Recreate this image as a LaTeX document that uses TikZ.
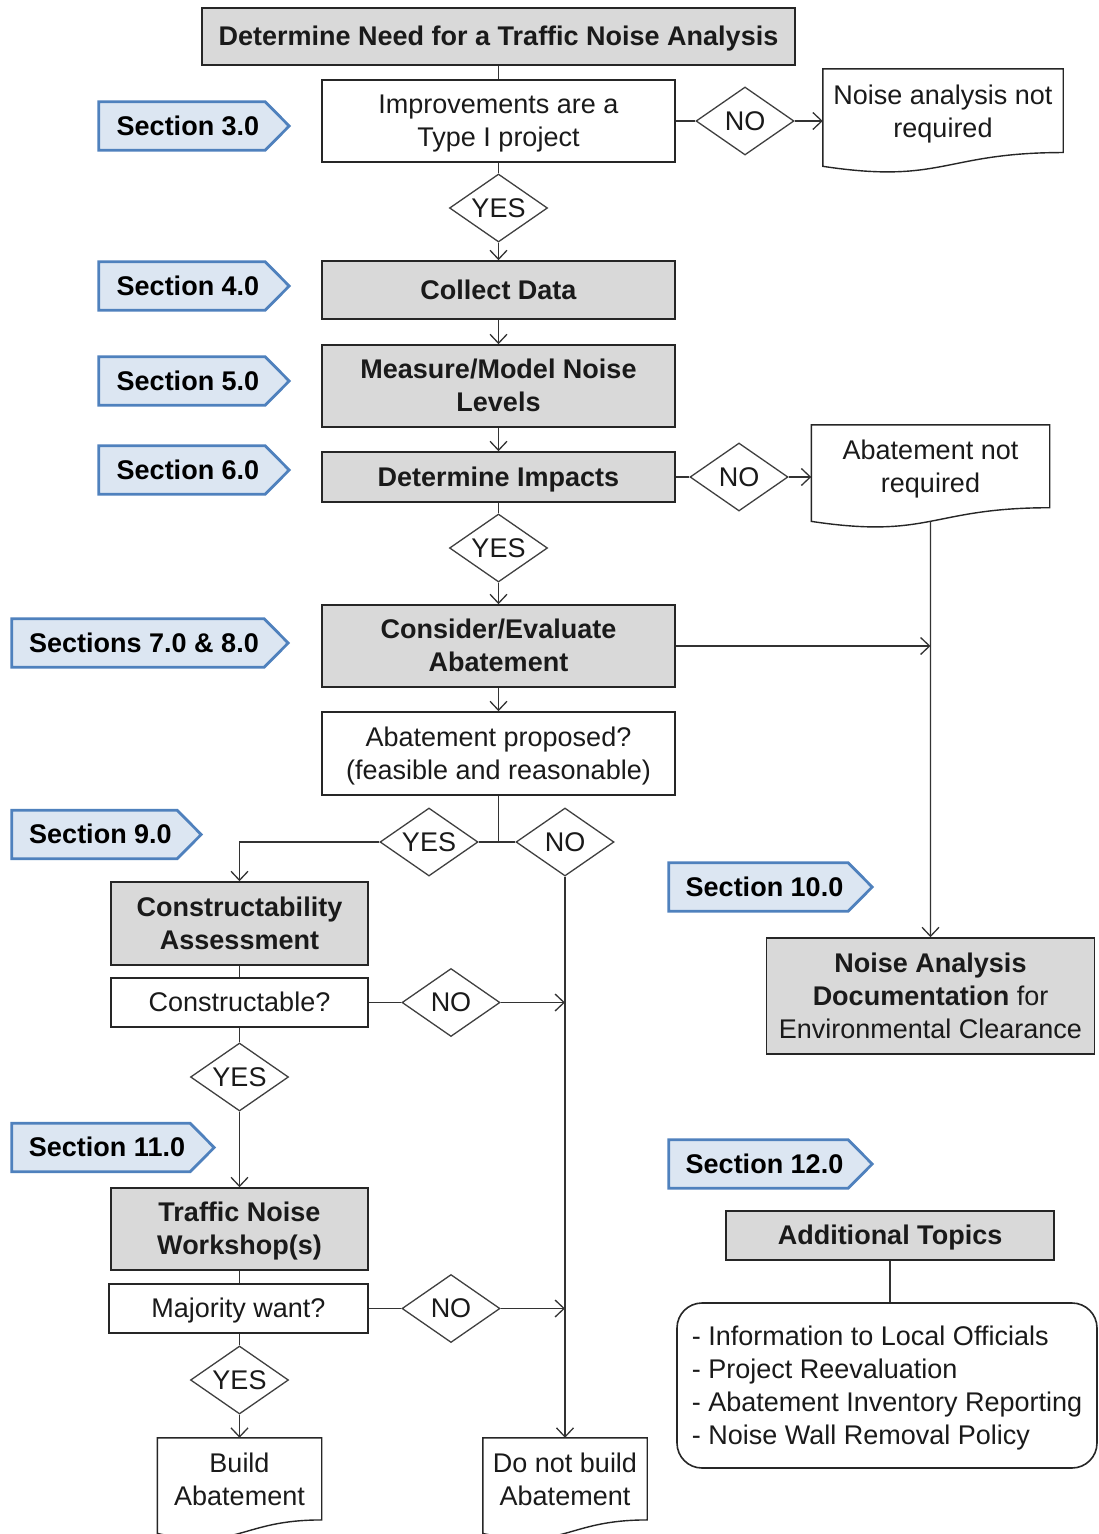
\documentclass[tikz,border=0pt]{standalone}
\usepackage{fontspec}
\setmainfont{Liberation Sans}
\usetikzlibrary{arrows.meta,calc,shapes.geometric,backgrounds}

\definecolor{boxgray}{HTML}{D9D9D9}
\definecolor{boxline}{HTML}{262626}
\definecolor{dline}{HTML}{404040}
\definecolor{linkc}{HTML}{333333}
\definecolor{tagfill}{HTML}{DCE6F2}
\definecolor{tagblue}{HTML}{4F81BD}
\definecolor{txt}{HTML}{1A1A1A}

\newcommand\mainfontsize{\fontsize{27}{33}\selectfont}
% struts giving every text block the full ascent/descent of the font
\newcommand\topstrut{\rule{0pt}{24.4pt}}
\newcommand\botstrut{\rule[-5.7pt]{0pt}{0pt}}
\newcommand\mltext[1]{\topstrut#1\botstrut}

% arrow-shaped section tag drawn around a named node
\newcommand\tagoutline[1]{%
  \path[tagline] (#1.north west) -- ($(#1.north east)+(-24,0)$) -- (#1.east)
    -- ($(#1.south east)+(-24,0)$) -- (#1.south west) -- cycle;}

% flowchart "document" outline with a wavy lower edge
\newcommand\docoutline[1]{%
  \path[docline] (#1.north west) -- (#1.north east)
    -- ($(#1.north east)!0.802!(#1.south east)$)
    .. controls ($(#1.north)!0.802!(#1.south)$) and ($(#1.north)!1.108!(#1.south)$)
    .. ($(#1.north west)!0.934!(#1.south west)$) -- cycle;}

\tikzset{
  strut/.style={execute at begin node=\topstrut, execute at end node=\botstrut},
  base/.style={font=\mainfontsize, text=txt, align=center, inner sep=0pt, strut},
  graybox/.style={base, rectangle, draw=boxline, line width=1.6pt, fill=boxgray,
    font=\mainfontsize\bfseries},
  whitebox/.style={base, rectangle, draw=boxline, line width=1.6pt, fill=white},
  choice/.style={base, diamond, aspect=1.44, draw=dline, line width=1.3pt, fill=white,
    minimum width=98pt, minimum height=68pt},
  docframe/.style={rectangle, draw=none, inner sep=0pt},
  doctext/.style={base, yshift=9.5pt},
  docline/.style={draw=boxline, line width=1.4pt, fill=white},
  tagnode/.style={font=\mainfontsize\bfseries, text=black, inner sep=0pt, strut,
    minimum height=48pt},
  tagline/.style={draw=tagblue, line width=2.8pt, fill=tagfill, line join=miter},
  link/.style={draw=linkc, line width=1.3pt},
  flow/.style={link, -{Straight Barb[length=9pt,width=17pt]}},
}

\begin{document}
\begin{tikzpicture}[x=1pt,y=-1pt]
\useasboundingbox (0,0) rectangle (1098,1534);
\begin{pgfonlayer}{background}
  \fill[white] (0,0) rectangle (1098,1534);
\end{pgfonlayer}

% ---- main column ----
\node[graybox, minimum width=593pt, minimum height=57pt] (t1) at (498.5,36.5)
  {Determine Need for a Traffic Noise Analysis};
\node[whitebox, minimum width=353pt, minimum height=82pt] (imp) at (498.5,121)
  {\mltext{Improvements are a\\Type I project}};
\node[choice] (n1) at (745,121) {NO};
\node[docframe, minimum width=240pt, minimum height=104pt,
  label={[doctext, name=na-t]center:{\mltext{Noise analysis not\\required}}}] (na) at (943,121) {};
\node[choice] (y1) at (498.5,208) {YES};
\node[graybox, minimum width=353pt, minimum height=58pt] (cd) at (498.5,290) {Collect Data};
\node[graybox, minimum width=353pt, minimum height=82pt] (mm) at (498.5,386)
  {\mltext{Measure/Model Noise\\Levels}};
\node[graybox, minimum width=353pt, minimum height=50pt] (di) at (498.5,477)
  {Determine Impacts};
\node[choice] (n2) at (739,477) {NO};
\node[docframe, minimum width=238pt, minimum height=103pt,
  label={[doctext, name=anr-t]center:{\mltext{Abatement not\\required}}}] (anr) at (930.5,476.5) {};
\node[choice] (y2) at (498.5,548) {YES};
\node[graybox, minimum width=353pt, minimum height=82pt] (ce) at (498.5,646)
  {\mltext{Consider/Evaluate\\Abatement}};
\node[whitebox, minimum width=353pt, minimum height=83pt] (ap) at (498.5,753.5)
  {\mltext{Abatement proposed?\\(feasible and reasonable)}};
\node[choice] (y3) at (429,842) {YES};
\node[choice] (n3) at (565,842) {NO};
\coordinate (split) at (498.5,842);

% ---- left column ----
\node[graybox, minimum width=257pt, minimum height=83pt] (ca) at (239.5,923.5)
  {\mltext{Constructability\\Assessment}};
\node[whitebox, minimum width=257pt, minimum height=49pt] (ct) at (239.5,1002.5)
  {Constructable?};
\node[choice] (n4) at (451,1002.5) {NO};
\node[choice] (y4) at (239.5,1077) {YES};
\node[graybox, minimum width=257pt, minimum height=82pt] (tw) at (239.5,1229)
  {\mltext{Traffic Noise\\Workshop(s)}};
\node[whitebox, minimum width=259pt, minimum height=49pt] (mw) at (238.5,1308.5)
  {Majority want?};
\node[choice] (n5) at (451,1308.5) {NO};
\node[choice] (y5) at (239.5,1380) {YES};
\node[docframe, minimum width=164pt, minimum height=102pt,
  label={[doctext, name=ba-t]center:{\mltext{Build\\Abatement}}}] (ba) at (239.5,1489) {};
\node[docframe, minimum width=164pt, minimum height=102pt,
  label={[doctext, name=dnb-t]center:{\mltext{Do not build\\Abatement}}}] (dnb) at (565,1489) {};

% ---- right column ----
\node[graybox, minimum width=328pt, minimum height=116pt] (nad) at (930.5,996)
  {\mltext{Noise Analysis\\Documentation \mdseries for\\\mdseries Environmental Clearance}};
\node[graybox, minimum width=328pt, minimum height=49pt] (at) at (890,1235.5)
  {Additional Topics};
\node[whitebox, rounded corners=25pt, align=left, minimum width=420pt,
  minimum height=165pt] (rb) at (887,1385.5)
  {\mltext{- Information to Local Officials\\- Project Reevaluation\\
   - Abatement Inventory Reporting\\- Noise Wall Removal Policy}};

% ---- section tags ----
\node[tagnode, minimum width=190pt] (s3) at (194,126) {Section 3.0\rule{12pt}{0pt}};
\node[tagnode, minimum width=190pt] (s4) at (194,286) {Section 4.0\rule{12pt}{0pt}};
\node[tagnode, minimum width=190pt] (s5) at (194,381) {Section 5.0\rule{12pt}{0pt}};
\node[tagnode, minimum width=190pt] (s6) at (194,470) {Section 6.0\rule{12pt}{0pt}};
\node[tagnode, minimum width=276pt] (s78) at (150,643) {Sections 7.0 \& 8.0\rule{12pt}{0pt}};
\node[tagnode, minimum width=189pt] (s9) at (106.5,834.5) {Section 9.0\rule{12pt}{0pt}};
\node[tagnode, minimum width=202pt] (s11) at (113,1147.5) {Section 11.0\rule{12pt}{0pt}};
\node[tagnode, minimum width=203pt] (s10) at (770.5,887) {Section 10.0\rule{12pt}{0pt}};
\node[tagnode, minimum width=203pt] (s12) at (770.5,1164) {Section 12.0\rule{12pt}{0pt}};

\begin{pgfonlayer}{background}
  \foreach \t in {s3,s4,s5,s6,s78,s9,s11,s10,s12} {\tagoutline{\t}}
  \foreach \d in {na,anr,ba,dnb} {\docoutline{\d}}
\end{pgfonlayer}

% ---- connectors ----
\draw[link] (t1.south) -- (imp.north);
\draw[link] (imp.east) -- (n1.west);
\draw[flow] (n1.east) -- (na.west);
\draw[link] (imp.south) -- (y1.north);
\draw[flow] (y1.south) -- (cd.north);
\draw[flow] (cd.south) -- (mm.north);
\draw[flow] (mm.south) -- (di.north);
\draw[link] (di.east) -- (n2.west);
\draw[flow] (n2.east) -- (n2.east -| anr.west);
\draw[link] (di.south) -- (y2.north);
\draw[flow] (y2.south) -- (ce.north);
\draw[flow] (ce.east) -- (ce.east -| anr.south);
\draw[flow] ($(anr.north)!0.933!(anr.south)$) -- (nad.north);
\draw[flow] (ce.south) -- (ap.north);
\draw[link] (ap.south) -- (split);
\draw[link] (y3.east) -- (n3.west);
\draw[flow] (y3.west) -| (ca.north);
\draw[flow] (n3.south) -- (dnb.north);
\draw[link] (ca.south) -- (ct.north);
\draw[link] (ct.east) -- (n4.west);
\draw[flow] (n4.east) -- (n4.east -| n3.south);
\draw[link] (ct.south) -- (y4.north);
\draw[flow] (y4.south) -- (tw.north);
\draw[link] (tw.south) -- (tw.south |- mw.north);
\draw[link] (mw.east) -- (n5.west);
\draw[flow] (n5.east) -- (n5.east -| n3.south);
\draw[link] (y5.north |- mw.south) -- (y5.north);
\draw[flow] (y5.south) -- (ba.north);
\draw[link] (at.south) -- (at.south |- rb.north);
\end{tikzpicture}
\end{document}
